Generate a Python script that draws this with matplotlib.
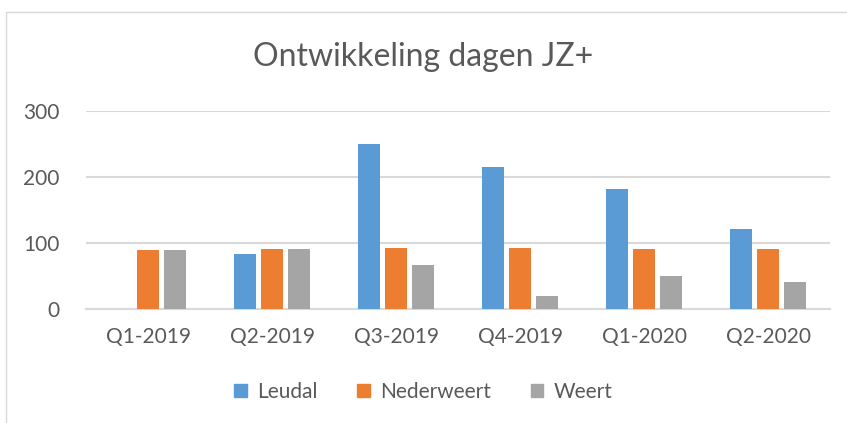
import numpy as np
import matplotlib.pyplot as plt
from matplotlib.patches import Rectangle, Patch

# Data
quarters = ["Q1-2019", "Q2-2019", "Q3-2019", "Q4-2019", "Q1-2020", "Q2-2020"]
leudal = [0, 83, 250, 215, 181, 121]
nederweert = [89, 91, 92, 92, 91, 91]
weert = [89, 91, 66, 19, 50, 41]

series = ["Leudal", "Nederweert", "Weert"]
colors = ["#5B9BD5", "#ED7D31", "#A5A5A5"]
text_color = "#595959"

plt.rcParams["font.family"] = ["Lato", "DejaVu Sans"]

fig = plt.figure(figsize=(8.47, 4.23), dpi=100)
ax = fig.add_axes([86 / 847, 1 - 308.7 / 423, (830 - 86) / 847, (308.7 - 110.7) / 423])

# chart border
fig.patches.append(Rectangle((6 / 847, -0.1), 1.0, 1 - 12 / 423 + 0.1,
                             transform=fig.transFigure, fill=False,
                             edgecolor="#D9D9D9", linewidth=1))

x = np.arange(len(quarters))
step = 0.218
width = 0.178
for i, (vals, c) in enumerate(zip([leudal, nederweert, weert], colors)):
    ax.bar(x + (i - 1) * step, vals, width=width, color=c, zorder=3)

ax.set_xlim(-0.5, len(quarters) - 0.5)
ax.set_ylim(0, 300)
ax.set_yticks([0, 100, 200, 300])
ax.set_xticks(x)
ax.set_xticklabels(quarters)
ax.grid(axis="y", color="#D9D9D9", linewidth=1.5, zorder=0)
ax.tick_params(axis="both", length=0, labelsize=15, colors=text_color)
ax.tick_params(axis="x", pad=13)
ax.tick_params(axis="y", pad=19)
for s in ["top", "right", "left"]:
    ax.spines[s].set_visible(False)
ax.spines["bottom"].set_color("#D9D9D9")
ax.spines["bottom"].set_linewidth(1.5)

fig.text(0.5, 1 - 57 / 423, "Ontwikkeling dagen JZ+", ha="center", va="center",
         fontsize=23, color=text_color)

handles = [Patch(color=c, label=s) for s, c in zip(series, colors)]
fig.legend(handles=handles, loc="center", bbox_to_anchor=(0.5, 1 - 392 / 423),
           ncol=3, frameon=False, fontsize=15, labelcolor=text_color,
           handlelength=0.6, handleheight=0.6, handletextpad=0.5, columnspacing=1.9)

fig.savefig("out.png", dpi=100)
